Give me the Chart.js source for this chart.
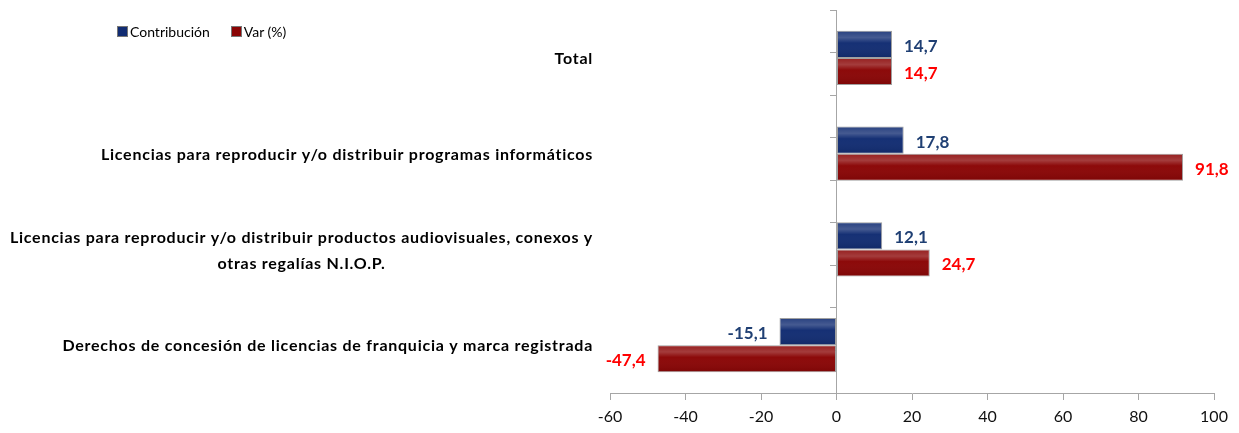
<!DOCTYPE html>
<html>
<head>
<meta charset="utf-8">
<script src="https://cdn.jsdelivr.net/npm/chart.js@4/dist/chart.umd.min.js"></script>
<style>
  html, body { margin: 0; padding: 0; background: #fff; }
  #wrap { position: relative; width: 1239px; height: 433px; }
  #legend { position: absolute; left: 117px; top: 23px; font-family: Lato, sans-serif; font-size: 14px; color: #000; display: flex; }
  #legend .item { display: flex; align-items: center; margin-right: 21px; }
  #legend .box { width: 9px; height: 9px; margin-right: 2px; border: 1px solid #777; }
</style>
</head>
<body>
<div id="wrap">
  <canvas id="c" width="1239" height="433"></canvas>
  <div id="legend"></div>
</div>
<script>
const categories = [
  'Total',
  'Licencias para reproducir y/o distribuir programas informáticos',
  ['Licencias para reproducir y/o distribuir productos audiovisuales, conexos y', 'otras regalías N.I.O.P.'],
  'Derechos de concesión de licencias de franquicia y marca registrada'
];
const seriesNames = ['Contribución', 'Var (%)'];
const contribucion = [14.7, 17.8, 12.1, -15.1];
const variacion = [14.7, 91.8, 24.7, -47.4];
const xMin = -60, xMax = 100, xStep = 20;

const barColors = ['#112C72', '#8A0505'];
const labelColors = ['#1F3F73', '#FF0000'];

const fmt = v => v.toFixed(1).replace('.', ',');

const valueLabels = {
  id: 'valueLabels',
  afterDatasetsDraw(chart) {
    const ctx = chart.ctx;
    ctx.save();
    chart.data.datasets.forEach((ds, di) => {
      const meta = chart.getDatasetMeta(di);
      meta.data.forEach((el, i) => {
        const h = el.height;
        const left = Math.min(el.x, el.base), right = Math.max(el.x, el.base);
        const top = el.y - h / 2;
        const g = ctx.createLinearGradient(0, top, 0, top + h);
        g.addColorStop(0, 'rgba(255,255,255,0.10)');
        g.addColorStop(0.25, 'rgba(255,255,255,0.22)');
        g.addColorStop(0.45, 'rgba(255,255,255,0.02)');
        g.addColorStop(1, 'rgba(0,0,0,0.10)');
        ctx.fillStyle = g;
        ctx.fillRect(left + 1, top + 1, right - left - 2, h - 2);
        const v = ds.data[i];
        ctx.font = 'bold 17px Lato, sans-serif';
        ctx.fillStyle = labelColors[di];
        ctx.textBaseline = 'middle';
        if (v >= 0) { ctx.textAlign = 'left'; ctx.fillText(fmt(v), el.x + 12, el.y + 2); }
        else { ctx.textAlign = 'right'; ctx.fillText(fmt(v), el.x - 12, el.y + 2); }
      });
    });
    ctx.restore();
  }
};

const catLabels = {
  id: 'catLabels',
  afterDraw(chart) {
    const ctx = chart.ctx;
    const s = chart.scales.y;
    const rightX = s.right - 17;
    ctx.save();
    ctx.font = 'bold 16px Lato, sans-serif';
    ctx.letterSpacing = '0.75px';
    ctx.fillStyle = '#000';
    ctx.textBaseline = 'middle';
    chart.data.labels.forEach((lab, i) => {
      const y = s.getPixelForTick(i);
      if (Array.isArray(lab)) {
        const widths = lab.map(t => ctx.measureText(t).width);
        const maxW = Math.max(...widths);
        const cx = rightX - maxW / 2;
        const lh = 26;
        const y0 = y - (lab.length - 1) * lh / 2 + 1;
        ctx.textAlign = 'center';
        lab.forEach((t, k) => ctx.fillText(t, cx, y0 + k * lh));
      } else {
        ctx.textAlign = 'right';
        ctx.fillText(lab, rightX, y + 1);
      }
    });
    ctx.restore();
  }
};

Chart.defaults.font.family = 'Lato, sans-serif';
const chart = new Chart(document.getElementById('c'), {
  type: 'bar',
  data: {
    labels: categories,
    datasets: [
      { label: seriesNames[0], data: contribucion, backgroundColor: barColors[0], borderColor: 'rgba(150,150,150,0.9)', borderWidth: 1, borderSkipped: false, barPercentage: 1.0, categoryPercentage: 0.565 },
      { label: seriesNames[1], data: variacion, backgroundColor: barColors[1], borderColor: 'rgba(150,150,150,0.9)', borderWidth: 1, borderSkipped: false, barPercentage: 1.0, categoryPercentage: 0.565 }
    ]
  },
  options: {
    indexAxis: 'y',
    responsive: false,
    animation: false,
    layout: { padding: { top: 10, right: 25, left: 0, bottom: 0 } },
    plugins: { legend: { display: false }, tooltip: { enabled: false } },
    scales: {
      x: {
        type: 'linear', min: xMin, max: xMax,
        ticks: { stepSize: xStep, color: '#111', font: { size: 16 }, padding: 7 },
        grid: { drawOnChartArea: false, tickLength: 7, color: '#A6A6A6' },
        border: { display: true, color: '#A6A6A6' },
        afterFit: s => { s.height = 40; }
      },
      y: {
        ticks: { display: false },
        grid: { display: false },
        border: { display: false },
        afterFit: s => { s.width = 610; }
      },
      y2: {
        type: 'linear', position: { x: 0 }, axis: 'y', min: 0, max: 8,
        ticks: { display: false, stepSize: 1 },
        grid: { drawOnChartArea: false, tickLength: 6, color: '#A6A6A6' },
        border: { display: true, color: '#A6A6A6' }
      }
    }
  },
  plugins: [valueLabels, catLabels]
});

const legend = document.getElementById('legend');
chart.data.datasets.forEach(ds => {
  const it = document.createElement('div'); it.className = 'item';
  const b = document.createElement('span'); b.className = 'box'; b.style.background = ds.backgroundColor;
  const t = document.createElement('span'); t.textContent = ds.label;
  it.appendChild(b); it.appendChild(t); legend.appendChild(it);
});
</script>
</body>
</html>
